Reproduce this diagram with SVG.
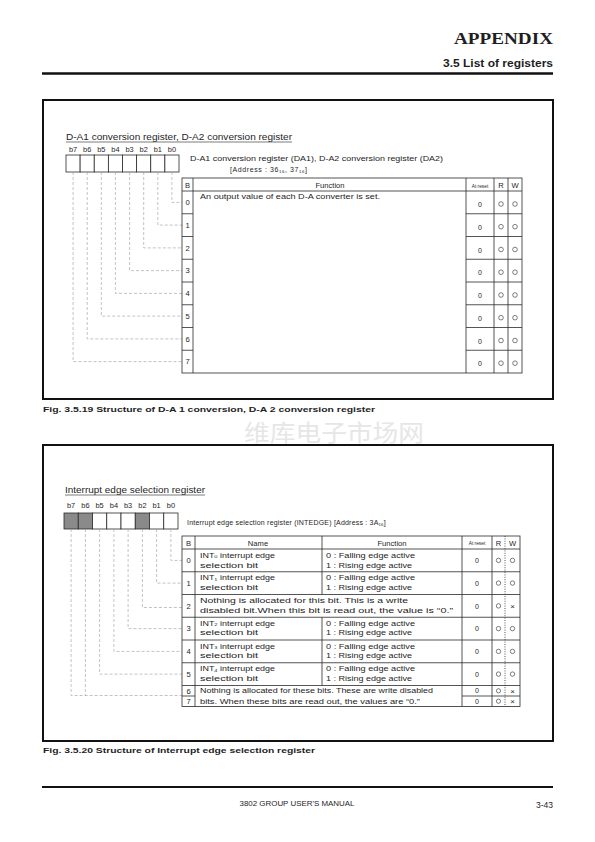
<svg xmlns="http://www.w3.org/2000/svg" width="595" height="842" viewBox="0 0 595 842">
<style>
text{font-family:"Liberation Sans",Arial,sans-serif;fill:#1e1e1e}
.frame{fill:none;stroke:#111;stroke-width:2}
.tb{fill:none;stroke:#2a2a2a;stroke-width:0.8}
.ln{stroke:#2a2a2a;stroke-width:0.8}
.dot{stroke:#2a2a2a;stroke-width:0.8;stroke-dasharray:1 1.4}
.dash{fill:none;stroke:#9a9a9a;stroke-width:0.6;stroke-dasharray:3 2}
.bit{fill:#fff;stroke:#2a2a2a;stroke-width:0.8}
.bitg{fill:#8a8a8a;stroke:#2a2a2a;stroke-width:0.8}
.bl{font-size:7.4px;text-anchor:middle}
.rn{font-size:7.6px;text-anchor:middle}
.hd{font-size:7.6px;text-anchor:middle}
.ar{font-size:4.8px;text-anchor:middle}
.tx{font-size:6.8px}
.z{font-size:7px;text-anchor:middle}
.o{fill:none;stroke:#2a2a2a;stroke-width:0.6}
.x{font-size:8px;text-anchor:middle}
.cap{font-size:8px;font-weight:bold}
.sub{font-size:4.3px}
</style>

<g id="header">
<text x="553" y="44" text-anchor="end" style="font-family:'Liberation Serif','Times New Roman',serif;font-weight:bold;font-size:17px" textLength="99" lengthAdjust="spacingAndGlyphs">APPENDIX</text>
<text x="553" y="67" text-anchor="end" style="font-weight:bold;font-size:10px" textLength="110" lengthAdjust="spacingAndGlyphs">3.5 List of registers</text>
<line x1="42" y1="73.5" x2="553" y2="73.5" stroke="#111" stroke-width="2.5"/>
</g>

<!-- ================= Figure 1 ================= -->
<g id="fig1-frame"><rect class="frame" x="43" y="100" width="510" height="299"/></g>

<g id="fig1-register">
<text x="66" y="140" style="font-size:8.2px" textLength="226" lengthAdjust="spacingAndGlyphs">D-A1 conversion register, D-A2 conversion register</text>
<line x1="66" y1="142" x2="292" y2="142" stroke="#222" stroke-width="0.6"/>
<text class="bl" x="73.1" y="152">b7</text><text class="bl" x="87.2" y="152">b6</text><text class="bl" x="101.3" y="152">b5</text><text class="bl" x="115.4" y="152">b4</text><text class="bl" x="129.6" y="152">b3</text><text class="bl" x="143.7" y="152">b2</text><text class="bl" x="157.8" y="152">b1</text><text class="bl" x="171.9" y="152">b0</text>
<rect class="bit" x="66" y="155" width="14.125" height="17"/>
<rect class="bit" x="80.125" y="155" width="14.125" height="17"/>
<rect class="bit" x="94.25" y="155" width="14.125" height="17"/>
<rect class="bit" x="108.375" y="155" width="14.125" height="17"/>
<rect class="bit" x="122.5" y="155" width="14.125" height="17"/>
<rect class="bit" x="136.625" y="155" width="14.125" height="17"/>
<rect class="bit" x="150.75" y="155" width="14.125" height="17"/>
<rect class="bit" x="164.875" y="155" width="14.125" height="17"/>
<text x="190" y="161" class="tx" style="font-size:6.8px" textLength="253" lengthAdjust="spacingAndGlyphs">D-A1 conversion register (DA1), D-A2 conversion register (DA2)</text>
<text x="230" y="172" class="tx" style="font-size:7px;letter-spacing:0.6px">[Address : 36<tspan class="sub" dy="0.8">16</tspan><tspan dy="-0.8">, 37</tspan><tspan class="sub" dy="0.8">16</tspan><tspan dy="-0.8">]</tspan></text>
</g>

<g id="fig1-connectors">
<polyline class="dash" points="171.9,172 171.9,202.4 182,202.4"/>
<polyline class="dash" points="157.8,172 157.8,225.1 182,225.1"/>
<polyline class="dash" points="143.7,172 143.7,247.9 182,247.9"/>
<polyline class="dash" points="129.6,172 129.6,270.6 182,270.6"/>
<polyline class="dash" points="115.4,172 115.4,293.4 182,293.4"/>
<polyline class="dash" points="101.3,172 101.3,316.1 182,316.1"/>
<polyline class="dash" points="87.2,172 87.2,338.9 182,338.9"/>
<polyline class="dash" points="73.1,172 73.1,361.6 182,361.6"/>
</g>

<g id="fig1-table">
<rect class="tb" x="182" y="178" width="340" height="195"/>
<line class="ln" x1="182" y1="191" x2="522" y2="191"/>
<line class="ln" x1="193" y1="178" x2="193" y2="373"/>
<line class="ln" x1="466" y1="178" x2="466" y2="373"/>
<line class="ln" x1="494" y1="178" x2="494" y2="373"/>
<line class="ln" x1="508" y1="178" x2="508" y2="373"/>
<g class="ln">
<line x1="182" y1="213.75" x2="193" y2="213.75"/><line x1="466" y1="213.75" x2="522" y2="213.75"/>
<line x1="182" y1="236.5" x2="193" y2="236.5"/><line x1="466" y1="236.5" x2="522" y2="236.5"/>
<line x1="182" y1="259.25" x2="193" y2="259.25"/><line x1="466" y1="259.25" x2="522" y2="259.25"/>
<line x1="182" y1="282" x2="193" y2="282"/><line x1="466" y1="282" x2="522" y2="282"/>
<line x1="182" y1="304.75" x2="193" y2="304.75"/><line x1="466" y1="304.75" x2="522" y2="304.75"/>
<line x1="182" y1="327.5" x2="193" y2="327.5"/><line x1="466" y1="327.5" x2="522" y2="327.5"/>
<line x1="182" y1="350.25" x2="193" y2="350.25"/><line x1="466" y1="350.25" x2="522" y2="350.25"/>
</g>
<text class="hd" x="187.5" y="188">B</text>
<text class="hd" x="330" y="188">Function</text>
<text class="ar" x="480" y="187.5">At reset</text>
<text class="hd" x="501" y="188">R</text>
<text class="hd" x="515" y="188">W</text>
<text class="tx" x="200" y="199" textLength="180" lengthAdjust="spacingAndGlyphs">An output value of each D-A converter is set.</text>
<text class="rn" x="187.5" y="205.1">0</text>
<text class="rn" x="187.5" y="227.8">1</text>
<text class="rn" x="187.5" y="250.6">2</text>
<text class="rn" x="187.5" y="273.3">3</text>
<text class="rn" x="187.5" y="296.1">4</text>
<text class="rn" x="187.5" y="318.8">5</text>
<text class="rn" x="187.5" y="341.6">6</text>
<text class="rn" x="187.5" y="364.3">7</text>
<text class="z" x="480" y="207">0</text><circle class="o" cx="501" cy="204" r="2.3"/><circle class="o" cx="515" cy="204" r="2.3"/>
<text class="z" x="480" y="229.7">0</text><circle class="o" cx="501" cy="226.7" r="2.3"/><circle class="o" cx="515" cy="226.7" r="2.3"/>
<text class="z" x="480" y="252.5">0</text><circle class="o" cx="501" cy="249.5" r="2.3"/><circle class="o" cx="515" cy="249.5" r="2.3"/>
<text class="z" x="480" y="275.2">0</text><circle class="o" cx="501" cy="272.2" r="2.3"/><circle class="o" cx="515" cy="272.2" r="2.3"/>
<text class="z" x="480" y="298">0</text><circle class="o" cx="501" cy="295" r="2.3"/><circle class="o" cx="515" cy="295" r="2.3"/>
<text class="z" x="480" y="320.7">0</text><circle class="o" cx="501" cy="317.7" r="2.3"/><circle class="o" cx="515" cy="317.7" r="2.3"/>
<text class="z" x="480" y="343.5">0</text><circle class="o" cx="501" cy="340.5" r="2.3"/><circle class="o" cx="515" cy="340.5" r="2.3"/>
<text class="z" x="480" y="366.2">0</text><circle class="o" cx="501" cy="363.2" r="2.3"/><circle class="o" cx="515" cy="363.2" r="2.3"/>
</g>

<g id="fig1-caption">
<text class="cap" x="43" y="412" textLength="332" lengthAdjust="spacingAndGlyphs">Fig. 3.5.19 Structure of D-A 1 conversion, D-A 2 conversion register</text>
</g>

<g id="watermark">
<text x="244" y="441" style="font-family:'Noto Sans CJK SC',sans-serif;font-size:23px;fill:#e6e6e6" textLength="180" lengthAdjust="spacingAndGlyphs">维库电子市场网</text>
</g>

<!-- ================= Figure 2 ================= -->
<g id="fig2-frame"><rect class="frame" x="43" y="445" width="510" height="296"/></g>

<g id="fig2-register">
<text x="65" y="493" style="font-size:8.2px" textLength="140" lengthAdjust="spacingAndGlyphs">Interrupt edge selection register</text>
<line x1="65" y1="495" x2="205" y2="495" stroke="#222" stroke-width="0.6"/>
<text class="bl" x="71.1" y="508">b7</text><text class="bl" x="85.4" y="508">b6</text><text class="bl" x="99.6" y="508">b5</text><text class="bl" x="113.9" y="508">b4</text><text class="bl" x="128.1" y="508">b3</text><text class="bl" x="142.4" y="508">b2</text><text class="bl" x="156.6" y="508">b1</text><text class="bl" x="170.9" y="508">b0</text>
<rect class="bitg" x="64" y="513" width="14.25" height="16"/>
<rect class="bitg" x="78.25" y="513" width="14.25" height="16"/>
<rect class="bit" x="92.5" y="513" width="14.25" height="16"/>
<rect class="bit" x="106.75" y="513" width="14.25" height="16"/>
<rect class="bit" x="121" y="513" width="14.25" height="16"/>
<rect class="bitg" x="135.25" y="513" width="14.25" height="16"/>
<rect class="bit" x="149.5" y="513" width="14.25" height="16"/>
<rect class="bit" x="163.75" y="513" width="14.25" height="16"/>
<text x="187" y="525" class="tx" style="font-size:7px;letter-spacing:0.2px">Interrupt edge selection register (INTEDGE)  [Address : 3A<tspan class="sub" dy="0.8">16</tspan><tspan dy="-0.8">]</tspan></text>
</g>

<g id="fig2-connectors">
<polyline class="dash" points="170.9,529 170.9,560.4 182,560.4"/>
<polyline class="dash" points="156.6,529 156.6,583.1 182,583.1"/>
<polyline class="dash" points="142.4,529 142.4,607.5 182,607.5"/>
<polyline class="dash" points="128.1,529 128.1,628.6 182,628.6"/>
<polyline class="dash" points="113.9,529 113.9,651.4 182,651.4"/>
<polyline class="dash" points="99.6,529 99.6,674.1 182,674.1"/>
<polyline class="dash" points="85.4,529 85.4,695.5"/>
<polyline class="dash" points="71.1,529 71.1,695.5 182,695.5"/>
</g>

<g id="fig2-table">
<rect class="tb" x="182" y="536" width="338" height="170.5"/>
<line class="ln" x1="195" y1="536" x2="195" y2="706.5"/>
<line class="ln" x1="462" y1="536" x2="462" y2="706.5"/>
<line class="ln" x1="492" y1="536" x2="492" y2="706.5"/>
<line class="dot" x1="505" y1="536" x2="505" y2="706.5"/>
<line class="ln" x1="322" y1="536" x2="322" y2="594.5"/>
<line class="ln" x1="322" y1="617.25" x2="322" y2="685.5"/>
<g class="ln">
<line x1="182" y1="549" x2="520" y2="549"/>
<line x1="182" y1="571.75" x2="520" y2="571.75"/>
<line x1="182" y1="594.5" x2="520" y2="594.5"/>
<line x1="182" y1="617.25" x2="520" y2="617.25"/>
<line x1="182" y1="640" x2="520" y2="640"/>
<line x1="182" y1="662.75" x2="520" y2="662.75"/>
<line x1="182" y1="685.5" x2="520" y2="685.5"/>
<line x1="182" y1="696" x2="195" y2="696"/>
<line x1="462" y1="696" x2="520" y2="696"/>
</g>
<text class="hd" x="188.5" y="545.5">B</text>
<text class="hd" x="258" y="545.5">Name</text>
<text class="hd" x="392" y="545.5">Function</text>
<text class="ar" x="477" y="545">At reset</text>
<text class="hd" x="498.5" y="545.5">R</text>
<text class="hd" x="512.5" y="545.5">W</text>

<!-- row 0 -->
<text class="rn" x="188.5" y="563.1">0</text>
<text class="tx" x="200" y="557.6" textLength="75" lengthAdjust="spacingAndGlyphs">INT<tspan class="sub" dy="0.6">0</tspan><tspan dy="-0.6"> interrupt edge</tspan></text>
<text class="tx" x="200" y="567.6" textLength="58" lengthAdjust="spacingAndGlyphs">selection bit</text>
<text class="tx" x="326" y="557.6" textLength="89" lengthAdjust="spacingAndGlyphs">0 : Falling edge active</text>
<text class="tx" x="326" y="567.6" textLength="86" lengthAdjust="spacingAndGlyphs">1 : Rising edge active</text>
<text class="z" x="477" y="563">0</text><circle class="o" cx="498.5" cy="560.4" r="2.2"/><circle class="o" cx="512.5" cy="560.4" r="2.2"/>
<!-- row 1 -->
<text class="rn" x="188.5" y="585.8">1</text>
<text class="tx" x="200" y="580.3" textLength="75" lengthAdjust="spacingAndGlyphs">INT<tspan class="sub" dy="0.6">1</tspan><tspan dy="-0.6"> interrupt edge</tspan></text>
<text class="tx" x="200" y="590.3" textLength="58" lengthAdjust="spacingAndGlyphs">selection bit</text>
<text class="tx" x="326" y="580.3" textLength="89" lengthAdjust="spacingAndGlyphs">0 : Falling edge active</text>
<text class="tx" x="326" y="590.3" textLength="86" lengthAdjust="spacingAndGlyphs">1 : Rising edge active</text>
<text class="z" x="477" y="585.7">0</text><circle class="o" cx="498.5" cy="583.1" r="2.2"/><circle class="o" cx="512.5" cy="583.1" r="2.2"/>
<!-- row 2 -->
<text class="rn" x="188.5" y="608.6">2</text>
<text class="tx" x="200" y="603" textLength="208" lengthAdjust="spacingAndGlyphs">Nothing is allocated for this bit. This is a write</text>
<text class="tx" x="200" y="613" textLength="253" lengthAdjust="spacingAndGlyphs">disabled bit.When this bit is read out, the value is “0.”</text>
<text class="z" x="477" y="608.5">0</text><circle class="o" cx="498.5" cy="605.9" r="2.2"/><text class="x" x="512.5" y="608.6">×</text>
<!-- row 3 -->
<text class="rn" x="188.5" y="631.3">3</text>
<text class="tx" x="200" y="625.8" textLength="75" lengthAdjust="spacingAndGlyphs">INT<tspan class="sub" dy="0.6">2</tspan><tspan dy="-0.6"> interrupt edge</tspan></text>
<text class="tx" x="200" y="635.3" textLength="58" lengthAdjust="spacingAndGlyphs">selection bit</text>
<text class="tx" x="326" y="625.8" textLength="89" lengthAdjust="spacingAndGlyphs">0 : Falling edge active</text>
<text class="tx" x="326" y="635.3" textLength="86" lengthAdjust="spacingAndGlyphs">1 : Rising edge active</text>
<text class="z" x="477" y="631.2">0</text><circle class="o" cx="498.5" cy="628.6" r="2.2"/><circle class="o" cx="512.5" cy="628.6" r="2.2"/>
<!-- row 4 -->
<text class="rn" x="188.5" y="654.1">4</text>
<text class="tx" x="200" y="648.5" textLength="75" lengthAdjust="spacingAndGlyphs">INT<tspan class="sub" dy="0.6">3</tspan><tspan dy="-0.6"> interrupt edge</tspan></text>
<text class="tx" x="200" y="658" textLength="58" lengthAdjust="spacingAndGlyphs">selection bit</text>
<text class="tx" x="326" y="648.5" textLength="89" lengthAdjust="spacingAndGlyphs">0 : Falling edge active</text>
<text class="tx" x="326" y="658" textLength="86" lengthAdjust="spacingAndGlyphs">1 : Rising edge active</text>
<text class="z" x="477" y="654">0</text><circle class="o" cx="498.5" cy="651.4" r="2.2"/><circle class="o" cx="512.5" cy="651.4" r="2.2"/>
<!-- row 5 -->
<text class="rn" x="188.5" y="676.8">5</text>
<text class="tx" x="200" y="671.3" textLength="75" lengthAdjust="spacingAndGlyphs">INT<tspan class="sub" dy="0.6">4</tspan><tspan dy="-0.6"> interrupt edge</tspan></text>
<text class="tx" x="200" y="680.8" textLength="58" lengthAdjust="spacingAndGlyphs">selection bit</text>
<text class="tx" x="326" y="671.3" textLength="89" lengthAdjust="spacingAndGlyphs">0 : Falling edge active</text>
<text class="tx" x="326" y="680.8" textLength="86" lengthAdjust="spacingAndGlyphs">1 : Rising edge active</text>
<text class="z" x="477" y="676.7">0</text><circle class="o" cx="498.5" cy="674.1" r="2.2"/><circle class="o" cx="512.5" cy="674.1" r="2.2"/>
<!-- rows 6,7 -->
<text class="rn" x="188.5" y="693.6">6</text>
<text class="rn" x="188.5" y="704">7</text>
<text class="tx" x="200" y="693.4" textLength="233" lengthAdjust="spacingAndGlyphs">Nothing is allocated for these bits. These are write disabled</text>
<text class="tx" x="200" y="703.6" textLength="220" lengthAdjust="spacingAndGlyphs">bits. When these bits are read out, the values are “0.”</text>
<text class="z" x="477" y="693.4">0</text><circle class="o" cx="498.5" cy="690.8" r="2.1"/><text class="x" x="512.5" y="693.6">×</text>
<text class="z" x="477" y="703.8">0</text><circle class="o" cx="498.5" cy="701.2" r="2.1"/><text class="x" x="512.5" y="704">×</text>
</g>

<g id="fig2-caption">
<text class="cap" x="43" y="753" textLength="272" lengthAdjust="spacingAndGlyphs">Fig. 3.5.20 Structure of Interrupt edge selection register</text>
</g>

<g id="footer">
<line x1="42" y1="787" x2="553" y2="787" stroke="#111" stroke-width="2"/>
<text x="297" y="805.5" text-anchor="middle" style="font-size:6.3px" textLength="115" lengthAdjust="spacingAndGlyphs">3802 GROUP USER'S MANUAL</text>
<text x="553" y="807.5" text-anchor="end" style="font-size:8.5px">3-43</text>
</g>
</svg>
